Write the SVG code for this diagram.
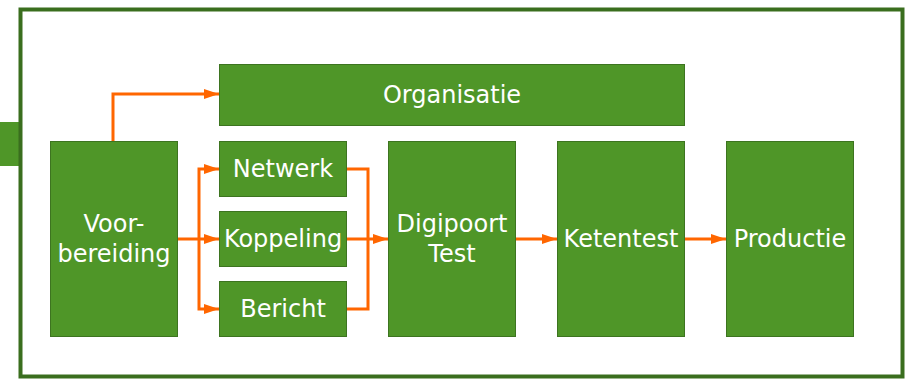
<svg xmlns="http://www.w3.org/2000/svg" width="905" height="379" viewBox="0 0 905 379">
<defs>
<style>
.box{fill:#4f9628;stroke:#3d7420;stroke-width:1}
.lbl{fill:#ffffff;font-family:"DejaVu Sans",Verdana,sans-serif;font-size:24px;text-anchor:middle}
.con{fill:none;stroke:#ff6600;stroke-width:3}
</style>
<marker id="ah" viewBox="0 0 15 10" refX="15" refY="5" markerWidth="15" markerHeight="10" markerUnits="userSpaceOnUse" orient="auto">
<path d="M0,0 L15,5 L0,10 Z" fill="#ff6600"/>
</marker>
</defs>
<rect width="905" height="379" fill="#ffffff"/>
<rect x="0" y="122" width="19" height="44" fill="#4f9628"/>
<rect x="20.5" y="9.5" width="882" height="367" fill="#ffffff" stroke="#3a6e1e" stroke-width="4"/>
<g id="connectors">
<path class="con" d="M113,141 V94 H219" marker-end="url(#ah)"/>
<path class="con" d="M177,239 H219" marker-end="url(#ah)"/>
<path class="con" d="M199,239 V169 H219" marker-end="url(#ah)"/>
<path class="con" d="M199,239 V309 H219" marker-end="url(#ah)"/>
<path class="con" d="M346,169 H368 V309 H346"/>
<path class="con" d="M346,239 H388" marker-end="url(#ah)"/>
<path class="con" d="M515,239 H557" marker-end="url(#ah)"/>
<path class="con" d="M684,239 H726" marker-end="url(#ah)"/>
</g>
<g id="organisatie"><rect class="box" x="219.5" y="64.5" width="465" height="61"/><text class="lbl" x="452" y="103">Organisatie</text></g>
<g id="voorbereiding"><rect class="box" x="50.5" y="141.5" width="127" height="195"/><text class="lbl" x="114" y="232">Voor-</text><text class="lbl" x="114" y="262">bereiding</text></g>
<g id="netwerk"><rect class="box" x="219.5" y="141.5" width="127" height="55"/><text class="lbl" x="283" y="177">Netwerk</text></g>
<g id="koppeling"><rect class="box" x="219.5" y="211.5" width="127" height="55"/><text class="lbl" x="283" y="247">Koppeling</text></g>
<g id="bericht"><rect class="box" x="219.5" y="281.5" width="127" height="55"/><text class="lbl" x="283" y="317">Bericht</text></g>
<g id="digipoort"><rect class="box" x="388.5" y="141.5" width="127" height="195"/><text class="lbl" x="452" y="232">Digipoort</text><text class="lbl" x="452" y="262">Test</text></g>
<g id="ketentest"><rect class="box" x="557.5" y="141.5" width="127" height="195"/><text class="lbl" x="621" y="247">Ketentest</text></g>
<g id="productie"><rect class="box" x="726.5" y="141.5" width="127" height="195"/><text class="lbl" x="790" y="247">Productie</text></g>
</svg>
